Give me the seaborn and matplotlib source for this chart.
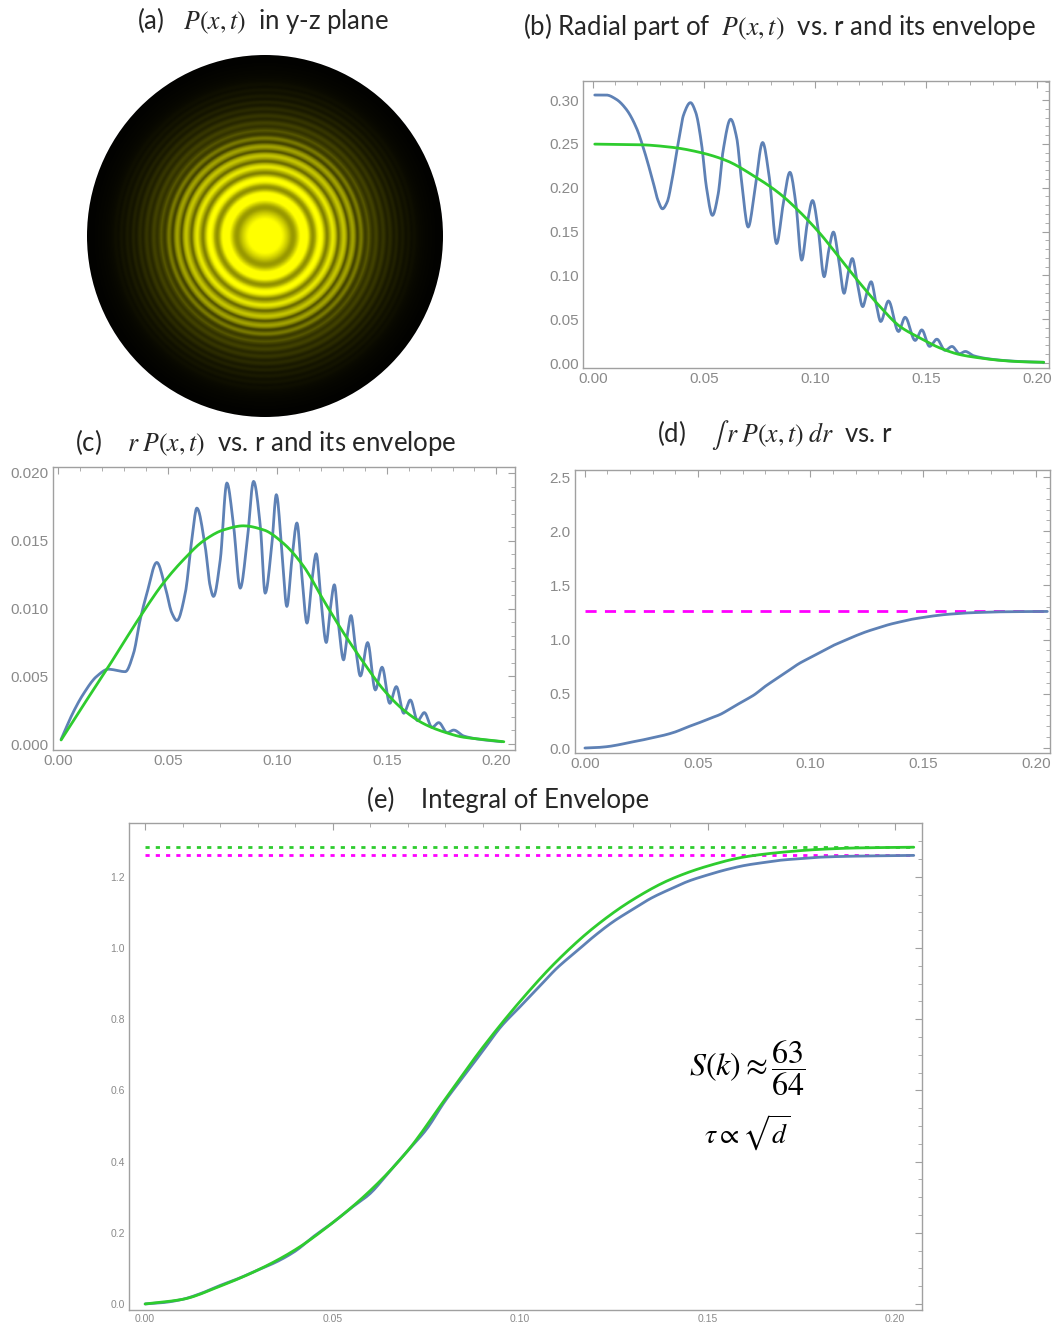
import numpy as np
import matplotlib
matplotlib.use("Agg")
import matplotlib.pyplot as plt
import seaborn as sns
from matplotlib.colors import LinearSegmentedColormap, PowerNorm
from matplotlib.ticker import MultipleLocator, FormatStrFormatter
from matplotlib.patches import Circle

# ---------------- data ----------------
# (b) radial part of P(x,t)
B_R = [0.0008, 0.0060, 0.0105, 0.0150, 0.0195, 0.0233, 0.0271, 0.0293, 0.0313, 0.0334,
       0.0358, 0.0383, 0.0409, 0.0439, 0.0463, 0.0489, 0.0511, 0.0538, 0.0564, 0.0586,
       0.0620, 0.0647, 0.0669, 0.0699, 0.0729, 0.0764, 0.0794, 0.0827, 0.0857, 0.0887,
       0.0914, 0.0940, 0.0965, 0.0989, 0.1015, 0.1041, 0.1062, 0.1083, 0.1107, 0.1131,
       0.1149, 0.1168, 0.1191, 0.1215, 0.1233, 0.1253, 0.1275, 0.1296, 0.1331, 0.1376,
       0.1406, 0.1451, 0.1481, 0.1516, 0.1549, 0.1586, 0.1617, 0.1651, 0.1677, 0.1714,
       0.1789, 0.1865, 0.1940, 0.2030]
B_P = [0.3057, 0.3057, 0.3008, 0.2894, 0.2686, 0.2403, 0.2062, 0.1854, 0.1759, 0.1835,
       0.2119, 0.2497, 0.2838, 0.2970, 0.2857, 0.2497, 0.2005, 0.1684, 0.1930, 0.2421,
       0.2781, 0.2573, 0.2081, 0.1551, 0.1967, 0.2516, 0.2119, 0.1362, 0.1816, 0.2176,
       0.1816, 0.1173, 0.1589, 0.1854, 0.1513, 0.0984, 0.1286, 0.1494, 0.1173, 0.0795,
       0.1022, 0.1192, 0.0908, 0.0643, 0.0795, 0.0927, 0.0681, 0.0473, 0.0708, 0.0359,
       0.0522, 0.0257, 0.0378, 0.0189, 0.0272, 0.0144, 0.0189, 0.0106, 0.0132, 0.0083,
       0.0045, 0.0026, 0.0015, 0.0008]
B_ENV_R = [0.0008, 0.0211, 0.0361, 0.0481, 0.0602, 0.0722, 0.0842, 0.0932, 0.1023, 0.1113,
           0.1203, 0.1293, 0.1383, 0.1474, 0.1564, 0.1654, 0.1744, 0.1835, 0.1925, 0.2030]
B_ENV = [0.2497, 0.2490, 0.2459, 0.2403, 0.2308, 0.2138, 0.1930, 0.1722, 0.1476, 0.1192,
         0.0908, 0.0643, 0.0416, 0.0284, 0.0170, 0.0095, 0.0057, 0.0030, 0.0015, 0.0008]

# (c) r P(x,t)
C_R = [0.0012, 0.0069, 0.0114, 0.0175, 0.0228, 0.0305, 0.0343, 0.0373, 0.0404,
       0.0449, 0.0487, 0.0518, 0.0541, 0.0579, 0.0609, 0.0632, 0.0670, 0.0693, 0.0708,
       0.0739, 0.0769, 0.0800, 0.0830, 0.0861, 0.0891, 0.0922, 0.0944, 0.0975, 0.0995,
       0.1021, 0.1043, 0.1066, 0.1089, 0.1112, 0.1135, 0.1158, 0.1177, 0.1199, 0.1223,
       0.1241, 0.1260, 0.1280, 0.1302, 0.1318, 0.1336, 0.1356, 0.1379, 0.1412, 0.1447,
       0.1478, 0.1513, 0.1543, 0.1577, 0.1607, 0.1640, 0.1671, 0.1706, 0.1737, 0.1775,
       0.1805, 0.1851, 0.1927, 0.2026]
C_RP = [0.00034, 0.00240, 0.00370, 0.00500, 0.00552, 0.00534, 0.00670, 0.00916, 0.01113,
        0.01340, 0.01163, 0.00966, 0.00911, 0.01113, 0.01507, 0.01741, 0.01458, 0.01163, 0.01089,
        0.01360, 0.01926, 0.01606, 0.01150, 0.01483, 0.01938, 0.01606, 0.01113, 0.01483, 0.01840,
        0.01409, 0.01015, 0.01360, 0.01631, 0.01236, 0.00892, 0.01212, 0.01404, 0.01064, 0.00749,
        0.00990, 0.01175, 0.00867, 0.00621, 0.00793, 0.00948, 0.00719, 0.00502, 0.00749, 0.00399,
        0.00567, 0.00300, 0.00424, 0.00227, 0.00325, 0.00172, 0.00232, 0.00123, 0.00158, 0.00084,
        0.00103, 0.00059, 0.00034, 0.00017]
C_ENV_R = [0.0012, 0.0099, 0.0228, 0.0373, 0.0480, 0.0571, 0.0663, 0.0754, 0.0845, 0.0937,
           0.1028, 0.1120, 0.1211, 0.1302, 0.1394, 0.1485, 0.1577, 0.1668, 0.1759, 0.1851,
           0.1942, 0.2034]
C_ENV = [0.00030, 0.00250, 0.00570, 0.00940, 0.01190, 0.01360, 0.01500, 0.01580, 0.01610, 0.01580,
         0.01480, 0.01310, 0.01060, 0.00820, 0.00600, 0.00400, 0.00250, 0.00150, 0.00090, 0.00050,
         0.00034, 0.00017]

# (d)/(e) integrals
INT_R = [0.000, 0.005, 0.010, 0.015, 0.020, 0.025, 0.030, 0.035, 0.040, 0.045,
         0.050, 0.055, 0.060, 0.065, 0.070, 0.075, 0.080, 0.085, 0.090, 0.095,
         0.100, 0.105, 0.110, 0.115, 0.120, 0.125, 0.130, 0.135, 0.140, 0.145,
         0.150, 0.155, 0.160, 0.165, 0.170, 0.175, 0.180, 0.190, 0.205]
INT_P = [0.000, 0.004, 0.013, 0.030, 0.052, 0.072, 0.095, 0.118, 0.148, 0.190,
         0.228, 0.270, 0.310, 0.370, 0.430, 0.490, 0.570, 0.640, 0.710, 0.780,
         0.835, 0.890, 0.945, 0.990, 1.035, 1.075, 1.108, 1.140, 1.165, 1.188,
         1.205, 1.220, 1.232, 1.240, 1.247, 1.251, 1.255, 1.258, 1.260]
ENV_INT_R = [0.000, 0.010, 0.020, 0.030, 0.040, 0.050, 0.060, 0.070, 0.080, 0.090,
             0.100, 0.110, 0.120, 0.130, 0.140, 0.150, 0.160, 0.170, 0.180, 0.190, 0.205]
ENV_INT = [0.000, 0.013, 0.050, 0.095, 0.152, 0.228, 0.318, 0.430, 0.575, 0.720,
           0.850, 0.965, 1.060, 1.135, 1.192, 1.230, 1.256, 1.269, 1.277, 1.281, 1.283]
INT_LIMIT = 1.261
ENV_INT_LIMIT = 1.284

X_TICKS = [0.00, 0.05, 0.10, 0.15, 0.20]


def smooth_line(xs, ys, n=10):
    """Monotone cubic (PCHIP-style) rendering through the given points."""
    x = np.asarray(xs, float)
    y = np.asarray(ys, float)
    h = np.diff(x)
    d = np.diff(y) / h
    m = np.zeros_like(y)
    m[0], m[-1] = d[0], d[-1]
    for i in range(1, len(x) - 1):
        if d[i - 1] * d[i] <= 0:
            m[i] = 0.0
        else:
            w1 = 2 * h[i] + h[i - 1]
            w2 = h[i] + 2 * h[i - 1]
            m[i] = (w1 + w2) / (w1 / d[i - 1] + w2 / d[i])
    ox, oy = [], []
    t = np.linspace(0, 1, n, endpoint=False)
    h00 = 2 * t**3 - 3 * t**2 + 1
    h10 = t**3 - 2 * t**2 + t
    h01 = -2 * t**3 + 3 * t**2
    h11 = t**3 - t**2
    for i in range(len(x) - 1):
        ox.append(x[i] + t * h[i])
        oy.append(h00 * y[i] + h10 * h[i] * m[i] + h01 * y[i + 1] + h11 * h[i] * m[i + 1])
    ox.append([x[-1]])
    oy.append([y[-1]])
    return np.concatenate(ox), np.concatenate(oy)


# ---------------- styling ----------------
sns.set_style("white")
plt.rcParams['font.family'] = ['Lato', 'DejaVu Sans']
plt.rcParams['mathtext.fontset'] = 'stix'

BLUE = '#5E81B5'
GREEN = '#2ECC2E'
MAGENTA = '#FF00FF'
FRAME = '#A0A0A0'
TICKLAB = '#8A8A8A'

W, H = 1053, 1331
fig = plt.figure(figsize=(W / 100, H / 100), dpi=100)


def box(left, top, right, bottom):
    return [left / W, 1 - bottom / H, (right - left) / W, (bottom - top) / H]


def style(ax, xlim, ylim, ymaj, ymin, yfmt, fs=11, xfmt='%.2f'):
    ax.set_xlim(*xlim)
    ax.set_ylim(*ylim)
    ax.set_xticks(X_TICKS)
    ax.xaxis.set_minor_locator(MultipleLocator(0.01))
    ax.yaxis.set_major_locator(MultipleLocator(ymaj))
    ax.yaxis.set_minor_locator(MultipleLocator(ymin))
    ax.xaxis.set_major_formatter(FormatStrFormatter(xfmt))
    ax.yaxis.set_major_formatter(FormatStrFormatter(yfmt))
    ax.tick_params(which='both', direction='in', top=True, right=True,
                   color=FRAME, labelcolor=TICKLAB, labelsize=fs,
                   labelfontfamily='Liberation Sans', pad=3)
    ax.tick_params(which='major', length=5, width=0.8)
    ax.tick_params(which='minor', length=3, width=0.6)
    for s in ax.spines.values():
        s.set_color(FRAME)
        s.set_linewidth(1.0)
    ax.set_xlabel('')
    ax.set_ylabel('')


def curve(ax, xs, ys, color):
    sx, sy = smooth_line(xs, ys)
    sns.lineplot(x=sx, y=sy, ax=ax, color=color, lw=2.0, sort=False, estimator=None)


# ---- (a) disk ----
axa = fig.add_axes(box(87, 55, 443, 417))
prof_r, prof_p = smooth_line(B_R, B_P, n=20)
g = np.linspace(-0.2, 0.2, 601)
XX, YY = np.meshgrid(g, g)
RR = np.hypot(XX, YY)
IMG = np.interp(RR, prof_r, prof_p)
cmap = LinearSegmentedColormap.from_list('by', ['#000000', '#4a4a00', '#FFFF00'])
im = axa.imshow(IMG, extent=[-0.2, 0.2, -0.2, 0.2], origin='lower', cmap=cmap,
                norm=PowerNorm(gamma=0.75, vmin=0, vmax=max(B_P) * 0.9),
                interpolation='bilinear', aspect='auto')
circ = Circle((0, 0), 0.2, transform=axa.transData)
im.set_clip_path(circ)
axa.set_xlim(-0.2, 0.2)
axa.set_ylim(-0.2, 0.2)
axa.axis('off')

# ---- (b) ----
axb = fig.add_axes(box(583, 81, 1049, 368))
curve(axb, B_R, B_P, BLUE)
curve(axb, B_ENV_R, B_ENV, GREEN)
style(axb, (-0.0045, 0.2054), (-0.0057, 0.3217), 0.05, 0.01, '%.2f')

# ---- (c) ----
axc = fig.add_axes(box(53, 467, 515, 750))
curve(axc, C_R, C_RP, BLUE)
curve(axc, C_ENV_R, C_ENV, GREEN)
style(axc, (-0.0025, 0.2085), (-0.00044, 0.02044), 0.005, 0.001, '%.3f')

# ---- (d) ----
axd = fig.add_axes(box(575, 470, 1050, 753))
axd.hlines(INT_LIMIT, min(INT_R), max(INT_R), color=MAGENTA, lw=2.0,
           linestyles=(0, (4, 3)))
curve(axd, INT_R, INT_P, BLUE)
style(axd, (-0.0044, 0.2062), (-0.046, 2.565), 0.5, 0.1, '%.1f')

# ---- (e) ----
axe = fig.add_axes(box(129, 823, 922, 1310))
axe.hlines(ENV_INT_LIMIT, min(ENV_INT_R), max(ENV_INT_R), color=GREEN, lw=2.0,
           linestyles=(0, (1.5, 2.2)))
axe.hlines(INT_LIMIT, min(INT_R), max(INT_R), color=MAGENTA, lw=2.0,
           linestyles=(0, (1.5, 2.2)))
curve(axe, INT_R, INT_P, BLUE)
curve(axe, ENV_INT_R, ENV_INT, GREEN)
style(axe, (-0.0043, 0.2072), (-0.017, 1.351), 0.2, 0.05, '%.1f', fs=7.5)
axe.text(0.78, 0.497, r'$S(k)\approx\dfrac{63}{64}$', transform=axe.transAxes,
         ha='center', va='center', fontsize=23, color='black')
axe.text(0.78, 0.363, r'$\tau\propto\sqrt{d}$', transform=axe.transAxes,
         ha='center', va='center', fontsize=20, color='black')

# ---- titles ----
TFS = 18.5
fig.text(263 / W, 1 - 20 / H, r'(a)   $P(x,t)$  in y-z plane', ha='center', va='center', fontsize=TFS)
fig.text(779 / W, 1 - 26 / H, r'(b) Radial part of  $P(x,t)$  vs. r and its envelope',
         ha='center', va='center', fontsize=TFS)
fig.text(266 / W, 1 - 443 / H, r'(c)    $r\;P(x,t)$  vs. r and its envelope',
         ha='center', va='center', fontsize=TFS)
fig.text(775 / W, 1 - 435 / H, r'(d)    $\int\, r\;P(x,t)\;dr$  vs. r',
         ha='center', va='center', fontsize=TFS)
fig.text(508 / W, 1 - 800 / H, r'(e)    Integral of Envelope', ha='center', va='center', fontsize=TFS)

fig.savefig('out.png', dpi=100, facecolor='white')
